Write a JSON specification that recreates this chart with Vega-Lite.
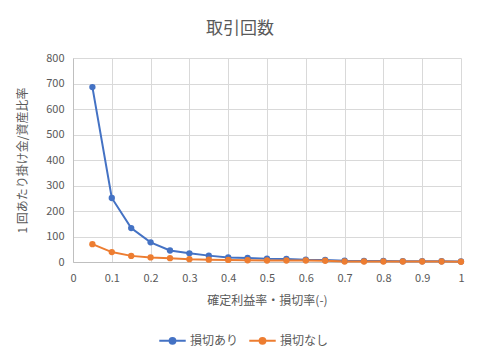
{
  "$schema": "https://vega.github.io/schema/vega-lite/v6.json",
  "width": 388,
  "height": 204,
  "autosize": {"type": "none"},
  "padding": {"left": 73, "top": 58, "right": 19, "bottom": 97},
  "background": "white",
  "view": {"stroke": null},
  "title": {
    "text": "取引回数",
    "anchor": "middle",
    "dx": -27,
    "offset": 14,
    "font": "Noto Sans CJK JP",
    "fontSize": 17,
    "fontWeight": "normal",
    "color": "#595959"
  },
  "config": {
    "font": "Noto Sans CJK JP",
    "axis": {
      "labelFont": "Noto Sans CJK JP",
      "titleFont": "Noto Sans CJK JP",
      "labelColor": "#595959",
      "titleColor": "#595959",
      "labelFontSize": 11,
      "titleFontSize": 12,
      "titleFontWeight": "normal",
      "gridColor": "#d9d9d9",
      "domainColor": "#bfbfbf",
      "ticks": false,
      "labelFlush": false
    }
  },
  "data": {
    "values": [
      {"x": 0.05, "s": "損切あり", "v": 686},
      {"x": 0.10, "s": "損切あり", "v": 251},
      {"x": 0.15, "s": "損切あり", "v": 133},
      {"x": 0.20, "s": "損切あり", "v": 77},
      {"x": 0.25, "s": "損切あり", "v": 45},
      {"x": 0.30, "s": "損切あり", "v": 34},
      {"x": 0.35, "s": "損切あり", "v": 25},
      {"x": 0.40, "s": "損切あり", "v": 18},
      {"x": 0.45, "s": "損切あり", "v": 16},
      {"x": 0.50, "s": "損切あり", "v": 13},
      {"x": 0.55, "s": "損切あり", "v": 12},
      {"x": 0.60, "s": "損切あり", "v": 9},
      {"x": 0.65, "s": "損切あり", "v": 8},
      {"x": 0.70, "s": "損切あり", "v": 5},
      {"x": 0.75, "s": "損切あり", "v": 4},
      {"x": 0.80, "s": "損切あり", "v": 4},
      {"x": 0.85, "s": "損切あり", "v": 3},
      {"x": 0.90, "s": "損切あり", "v": 3},
      {"x": 0.95, "s": "損切あり", "v": 3},
      {"x": 1.00, "s": "損切あり", "v": 2},
      {"x": 0.05, "s": "損切なし", "v": 70},
      {"x": 0.10, "s": "損切なし", "v": 39},
      {"x": 0.15, "s": "損切なし", "v": 24},
      {"x": 0.20, "s": "損切なし", "v": 18},
      {"x": 0.25, "s": "損切なし", "v": 15},
      {"x": 0.30, "s": "損切なし", "v": 11},
      {"x": 0.35, "s": "損切なし", "v": 9},
      {"x": 0.40, "s": "損切なし", "v": 8},
      {"x": 0.45, "s": "損切なし", "v": 7},
      {"x": 0.50, "s": "損切なし", "v": 6},
      {"x": 0.55, "s": "損切なし", "v": 6},
      {"x": 0.60, "s": "損切なし", "v": 6},
      {"x": 0.65, "s": "損切なし", "v": 5},
      {"x": 0.70, "s": "損切なし", "v": 2},
      {"x": 0.75, "s": "損切なし", "v": 2},
      {"x": 0.80, "s": "損切なし", "v": 2},
      {"x": 0.85, "s": "損切なし", "v": 2},
      {"x": 0.90, "s": "損切なし", "v": 2},
      {"x": 0.95, "s": "損切なし", "v": 2},
      {"x": 1.00, "s": "損切なし", "v": 1}
    ]
  },
  "mark": {
    "type": "line",
    "strokeWidth": 2,
    "point": {"size": 40, "filled": true, "opacity": 1}
  },
  "encoding": {
    "x": {
      "field": "x",
      "type": "quantitative",
      "scale": {"domain": [0, 1], "nice": false},
      "axis": {
        "values": [0, 0.1, 0.2, 0.3, 0.4, 0.5, 0.6, 0.7, 0.8, 0.9, 1],
        "format": ".1~f",
        "title": "確定利益率・損切率(-)",
        "labelPadding": 10,
        "titlePadding": 12,
        "domain": true,
        "grid": true
      }
    },
    "y": {
      "field": "v",
      "type": "quantitative",
      "scale": {"domain": [0, 800], "nice": false},
      "axis": {
        "values": [0, 100, 200, 300, 400, 500, 600, 700, 800],
        "title": "1 回あたり掛け金/資産比率",
        "labelPadding": 9,
        "titlePadding": 16,
        "domain": true
      }
    },
    "color": {
      "field": "s",
      "type": "nominal",
      "scale": {"domain": ["損切あり", "損切なし"], "range": ["#4472C4", "#ED7D31"]},
      "legend": {
        "title": null,
        "orient": "none",
        "direction": "horizontal",
        "legendX": 85,
        "legendY": 268,
        "symbolType": "M-1,0L1,0M-0.22,0A0.22,0.22 0 1,0 0.22,0A0.22,0.22 0 1,0 -0.22,0Z",
        "symbolSize": 700,
        "symbolStrokeWidth": 2,
        "labelFont": "Noto Sans CJK JP",
        "labelFontSize": 12,
        "labelColor": "#595959",
        "labelOffset": 3,
        "columnPadding": 6
      }
    }
  }
}
